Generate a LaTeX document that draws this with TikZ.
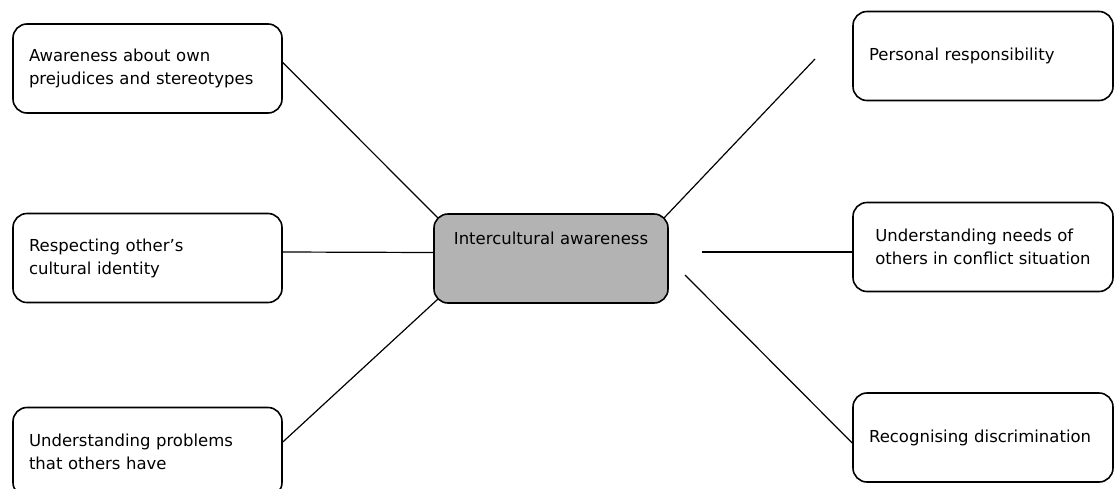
\documentclass[tikz,border=0pt]{standalone}
\usepackage{fontspec}
\setmainfont{DejaVu Sans}
\usetikzlibrary{calc}
\definecolor{hubgrey}{RGB}{179, 179, 179}

\begin{document}
\begin{tikzpicture}[x=1pt, y=-1pt, font=\fontsize{16.5}{23}\selectfont,
  box/.style={draw, line width=1.6pt, rounded corners=14pt, minimum height=89pt, align=left},
  leftbox/.style={box, text width=237pt, inner xsep=16pt},
  rightbox/.style={box, text width=228pt, inner xsep=16pt},
  hub/.style={box, fill=hubgrey, minimum width=234pt, inner ysep=0pt, text height=30pt, text depth=59pt, align=center},
  link/.style={line width=1.2pt}]
  \useasboundingbox (0, 0) rectangle (1114, 488);

  \node[hub] (centre) at (551, 258.5) {Intercultural awareness};

  \node[leftbox] (aware) at (147.5, 68.5) {Awareness about own\\prejudices and stereotypes};
  \node[leftbox] (respect) at (147.5, 258) {Respecting other's\\cultural identity};
  \node[leftbox] (problems) at (147.5, 452) {Understanding problems\\that others have};

  \node[rightbox] (personal) at (983, 56) {Personal responsibility};
  \node[box, minimum width=260pt] (needs) at (983, 247) {Understanding needs of\\others in conflict situation};
  \node[rightbox] (discrim) at (983, 437.5) {Recognising discrimination};

  \coordinate (toppers) at (815, 59);
  \coordinate (fromneeds) at (702, 252);
  \coordinate (fromdisc) at (685, 275);

  \draw[link] ($(aware.east)+(0, -6)$) -- ($(centre.north west)+(5, 5)$);
  \draw[link] ($(respect.east)+(0, -6)$) -- ($(centre.west)+(0, -6)$);
  \draw[link] ($(problems.east)+(0, -10)$) -- ($(centre.south west)+(5, -5)$);

  \draw[link] ($(centre.north east)+(-5, 5)$) -- (toppers);
  \draw[link] (fromneeds) -- ($(needs.west)+(0, 5)$);
  \draw[link] (fromdisc) -- ($(discrim.west)+(0, 5.5)$);

\end{tikzpicture}
\end{document}
